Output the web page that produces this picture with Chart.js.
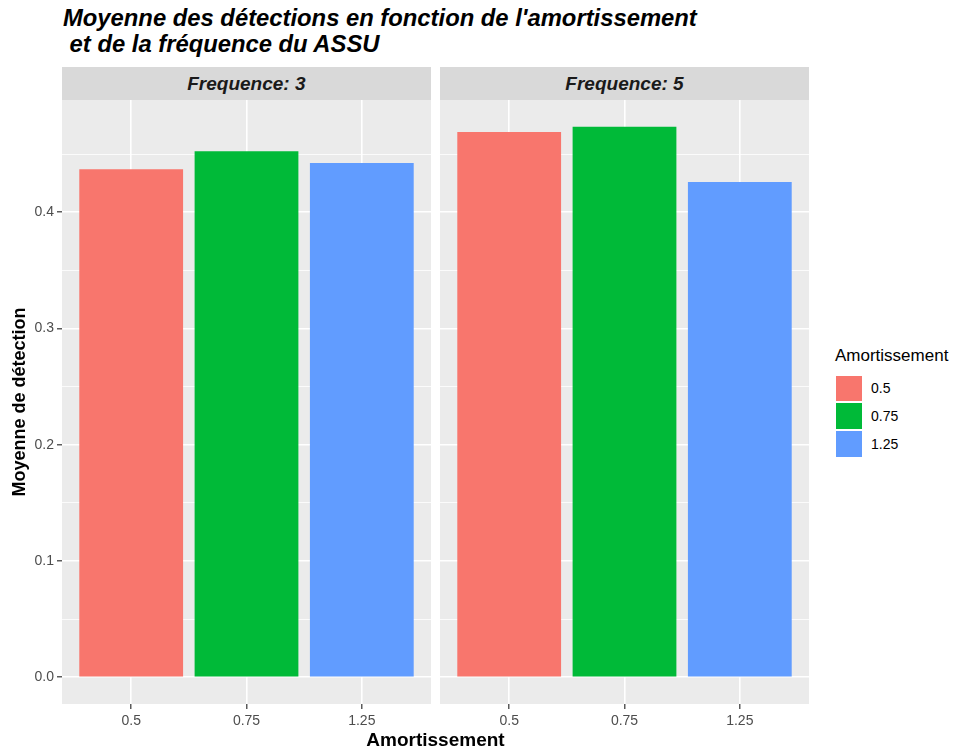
<!DOCTYPE html>
<html><head><meta charset="utf-8">
<script src="https://cdn.jsdelivr.net/npm/chart.js@4"></script>
<style>
html,body{margin:0;padding:0;background:#fff;}
body{width:959px;height:754px;position:relative;overflow:hidden;font-family:"Liberation Sans",Arial,sans-serif;}
.abs{position:absolute;}
#title{left:63px;top:5.2px;font-weight:bold;font-style:italic;font-size:23.8px;line-height:26px;color:#000;white-space:pre;}
.strip{top:67.3px;height:33px;background:#d9d9d9;font-weight:bold;font-style:italic;font-size:19px;line-height:33px;color:#1a1a1a;text-align:center;}
#xtitle{left:62px;width:747px;top:730.3px;line-height:20px;font-size:19px;font-weight:bold;text-align:center;color:#000;}
#legTitle{left:835px;top:346px;font-size:17px;line-height:20px;color:#000;}
.key{left:835px;width:27.7px;height:27.7px;box-sizing:border-box;border:1px solid #fff;}
.klab{left:871px;font-size:14px;line-height:20px;color:#000;}
canvas{position:absolute;}
</style></head>
<body>
<div id="title" class="abs">Moyenne des détections en fonction de l'amortissement
 et de la fréquence du ASSU</div>
<div id="strip0" class="abs strip" style="left:62px;width:368.7px;"></div>
<div id="strip1" class="abs strip" style="left:440px;width:369px;"></div>
<canvas id="c0" width="431" height="654" style="left:0px;top:100px;width:431px;height:654px;"></canvas>
<canvas id="c1" width="369" height="654" style="left:440px;top:100px;width:369px;height:654px;"></canvas>
<div id="xtitle" class="abs">Amortissement</div>
<div id="legTitle" class="abs">Amortissement</div>
<div id="legend"></div>
<script>
// ---- data ----
const categories = ['0.5', '0.75', '1.25'];
const facetLabels = ['Frequence: 3', 'Frequence: 5'];
const freq3Values = [0.437, 0.4525, 0.4425];
const freq5Values = [0.469, 0.4735, 0.426];
const barColors = ['#F8766D', '#00BA38', '#619CFF'];
const yMajorTicks = [0.0, 0.1, 0.2, 0.3, 0.4];
const yMinorTicks = [0.05, 0.15, 0.25, 0.35, 0.45];
const yTickLabels = ['0.0', '0.1', '0.2', '0.3', '0.4'];
const legendTitle = 'Amortissement';

const Y_MIN = -0.023, Y_MAX = 0.4966;
const FONT = '"Liberation Sans", Arial, sans-serif';

document.getElementById('strip0').textContent = facetLabels[0];
document.getElementById('strip1').textContent = facetLabels[1];
document.getElementById('legTitle').textContent = legendTitle;

// legend
const leg = document.getElementById('legend');
categories.forEach((c, i) => {
  const top = 374.5 + i * 27.7;
  const k = document.createElement('div');
  k.className = 'abs key';
  k.style.top = top + 'px';
  k.style.background = barColors[i];
  leg.appendChild(k);
  const l = document.createElement('div');
  l.className = 'abs klab';
  l.style.top = (top + 27.7 / 2 - 10) + 'px';
  l.textContent = c;
  leg.appendChild(l);
});

const panelBg = {
  id: 'panelBg',
  beforeDraw(chart) {
    const { ctx, chartArea: { left, top, width, height } } = chart;
    ctx.save();
    ctx.fillStyle = '#ebebeb';
    ctx.fillRect(left, top, width, height);
    ctx.restore();
  }
};

function isMajor(v) {
  return yMajorTicks.some(t => Math.abs(t - v) < 1e-9);
}

function zeroPad(scale) {
  scale.paddingTop = 0; scale.paddingBottom = 0;
  scale.paddingLeft = 0; scale.paddingRight = 0;
}

function makeChart(canvasId, values, showYAxis) {
  const yTicksAll = [...yMajorTicks, ...yMinorTicks].sort((a, b) => a - b);
  return new Chart(document.getElementById(canvasId), {
    type: 'bar',
    data: {
      datasets: [{
        data: values.map((v, i) => ({ x: i + 1, y: v })),
        backgroundColor: barColors,
        borderWidth: 0,
        categoryPercentage: 0.9,
        barPercentage: 1.0
      }]
    },
    options: {
      responsive: false,
      maintainAspectRatio: false,
      animation: false,
      devicePixelRatio: 1,
      layout: { padding: 0 },
      plugins: { legend: { display: false }, tooltip: { enabled: false }, title: { display: false } },
      scales: {
        x: {
          type: 'linear',
          offset: false,
          min: 0.4,
          max: categories.length + 0.6,
          afterBuildTicks(scale) { scale.ticks = categories.map((c, i) => ({ value: i + 1 })); },
          afterFit(scale) { scale.height = 50; zeroPad(scale); },
          ticks: {
            callback: (v) => categories[Math.round(v) - 1] ?? '',
            color: '#4d4d4d',
            font: { family: FONT, size: 14 },
            padding: 4,
            maxRotation: 0,
            autoSkip: false
          },
          grid: {
            offset: false,
            color: '#ffffff',
            lineWidth: 1.6,
            drawTicks: true,
            tickLength: 5,
            tickColor: '#333333',
            tickWidth: 1.2
          },
          border: { display: false }
        },
        y: {
          type: 'linear',
          min: Y_MIN,
          max: Y_MAX,
          afterBuildTicks(scale) { scale.ticks = yTicksAll.map(v => ({ value: v })); },
          afterFit(scale) { scale.width = showYAxis ? 62 : 0; zeroPad(scale); },
          ticks: {
            display: showYAxis,
            callback: (v) => {
              const idx = yMajorTicks.findIndex(t => Math.abs(t - v) < 1e-9);
              return idx >= 0 ? yTickLabels[idx] : '';
            },
            color: '#4d4d4d',
            font: { family: FONT, size: 14 },
            padding: 3,
            autoSkip: false
          },
          title: {
            display: showYAxis,
            text: 'Moyenne de détection',
            color: '#000000',
            font: { family: FONT, size: 18, weight: 'bold' },
            padding: { top: 9, bottom: 0 }
          },
          grid: {
            color: '#ffffff',
            lineWidth: (ctx) => isMajor(ctx.tick ? ctx.tick.value : NaN) ? 1.6 : 0.8,
            drawTicks: showYAxis,
            tickLength: 5,
            tickColor: (ctx) => isMajor(ctx.tick ? ctx.tick.value : NaN) ? '#333333' : 'rgba(0,0,0,0)',
            tickWidth: 1.2
          },
          border: { display: false }
        }
      }
    },
    plugins: [panelBg]
  });
}

makeChart('c0', freq3Values, true);
makeChart('c1', freq5Values, false);
</script>
</body></html>
